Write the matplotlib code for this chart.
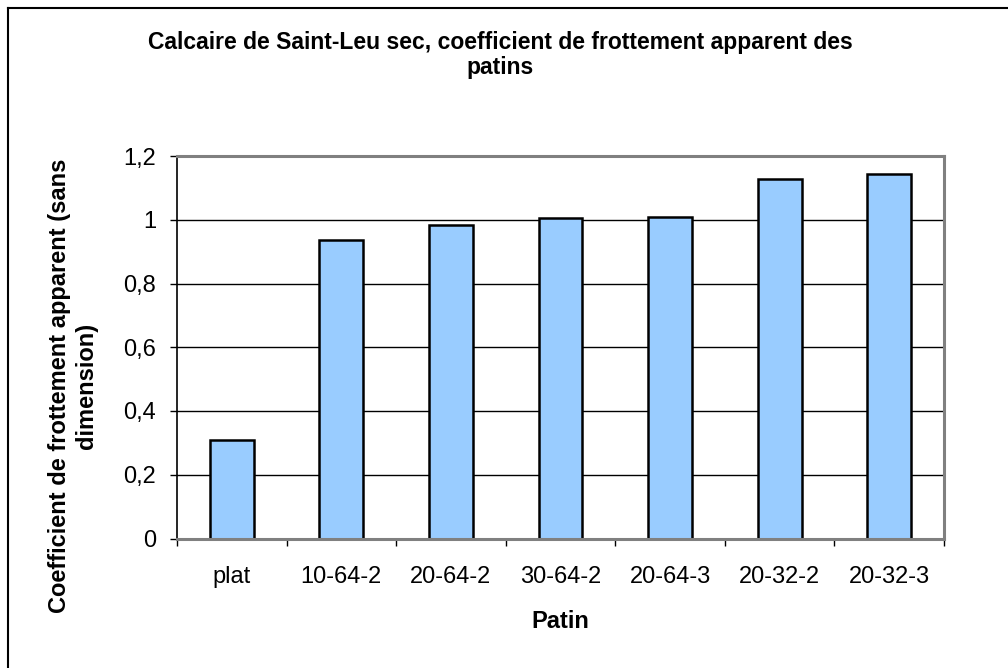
import matplotlib
matplotlib.use("Agg")
import matplotlib.pyplot as plt
from matplotlib.lines import Line2D
import numpy as np

categories = ["plat", "10-64-2", "20-64-2", "30-64-2", "20-64-3", "20-32-2", "20-32-3"]
values = [0.308, 0.938, 0.985, 1.005, 1.009, 1.128, 1.142]
yticks = [0, 0.2, 0.4, 0.6, 0.8, 1.0, 1.2]
ytick_labels = ["0", "0,2", "0,4", "0,6", "0,8", "1", "1,2"]

title = "Calcaire de Saint-Leu sec, coefficient de frottement apparent des\npatins"
xlabel = "Patin"
ylabel = "Coefficient de frottement apparent (sans\ndimension)"

plt.rcParams['font.family'] = ['Liberation Sans', 'DejaVu Sans']

W, H = 1008, 668
fig = plt.figure(figsize=(W / 100, H / 100), dpi=100)
fig.patch.set_facecolor("white")

# outer chart border (left and top visible)
fig.add_artist(Line2D([8 / W, 8 / W], [0, 1 - 8 / H], transform=fig.transFigure, color="black", lw=1.5))
fig.add_artist(Line2D([8 / W, 1], [1 - 8 / H, 1 - 8 / H], transform=fig.transFigure, color="black", lw=1.5))

left, right, top, bottom = 177, 944, 156, 538.5
ax = fig.add_axes([left / W, 1 - bottom / H, (right - left) / W, (bottom - top) / H])

x = np.arange(len(categories))
ax.bar(x, values, width=0.4, color="#99CCFF", edgecolor="black", linewidth=1.8, zorder=3)

ax.set_xlim(-0.5, len(categories) - 0.5)
ax.set_ylim(0, 1.2)
ax.set_yticks(yticks)
ax.set_yticklabels(ytick_labels, fontsize=17)
ax.yaxis.grid(True, color="black", linewidth=1.0, zorder=1)

ax.set_xticks(np.arange(-0.5, len(categories), 1.0))
ax.set_xticklabels([])
ax.set_xticks(x, minor=True)
ax.set_xticklabels(categories, minor=True, fontsize=17)
ax.tick_params(axis="x", which="minor", length=0, pad=20)
ax.tick_params(axis="x", which="major", length=5, width=1, direction="out", color="black")
ax.tick_params(axis="y", length=5, width=1, direction="out", pad=10, color="black")

ax.spines["left"].set_color("black")
ax.spines["left"].set_linewidth(1.2)
for s in ["top", "right", "bottom"]:
    ax.spines[s].set_color("#808080")
    ax.spines[s].set_linewidth(2.2)
ax.spines["bottom"].set_zorder(4)

ax.set_xlabel(xlabel, fontsize=17, fontweight="bold", labelpad=16)

fig.text(73 / W, 1 - 386 / H, ylabel, rotation=90, ha="center", va="center",
         fontsize=17, fontweight="bold", multialignment="center", linespacing=1.25)

fig.text(500 / W, 1 - 55 / H, title, ha="center", va="center", fontsize=16.5,
         fontweight="bold", linespacing=1.15)

fig.savefig("out.png", dpi=100)
